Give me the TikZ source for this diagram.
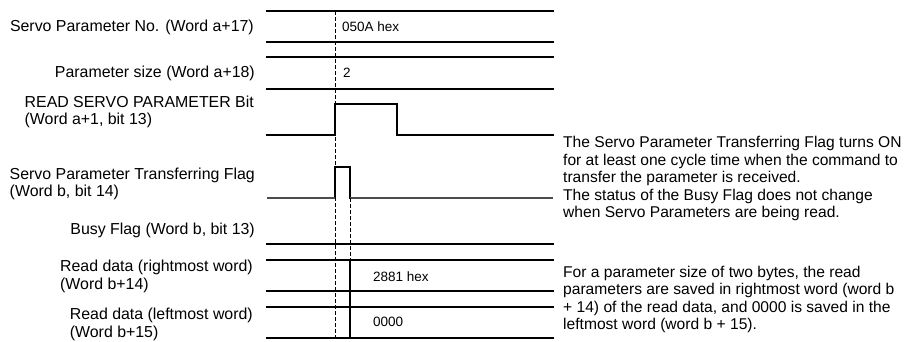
\documentclass[tikz,border=0pt]{standalone}
\usepackage{fontspec}
\setmainfont{Liberation Sans}
\begin{document}
\begin{tikzpicture}[x=1pt,y=-1pt,
  sig/.style={line width=1.1pt, line cap=rect},
  sigg/.style={line width=1.4pt, draw=black!70},
  guide/.style={line width=1pt, dash pattern=on 4pt off 2pt},
  lbl/.style={anchor=east, align=left, inner sep=0pt, font=\fontsize{15.9}{17.6}\selectfont},
  val/.style={anchor=west, inner sep=0pt, font=\fontsize{13.5}{15}\selectfont},
  note/.style={anchor=west, align=left, inner sep=0pt, font=\fontsize{15.6}{17.5}\selectfont}]
\useasboundingbox (0,0) rectangle (911,341);

% labels
\node[lbl] (l1) at (254,27) {Servo Parameter No. (Word a+17)};
\node[lbl] (l2) at (255,73) {Parameter size (Word a+18)};
\node[lbl] (l3) at (254,112) {READ SERVO PARAMETER Bit\\(Word a+1, bit 13)};
\node[lbl] (l4) at (255,184) {Servo Parameter Transferring Flag\\(Word b, bit 14)};
\node[lbl] (l5) at (255,230) {Busy Flag (Word b, bit 13)};
\node[lbl] (l6) at (253,276.5) {Read data (rightmost word)\\(Word b+14)};
\node[lbl] (l7) at (253,324.5) {Read data (leftmost word)\\(Word b+15)};

% word rows
\draw[sig] (267,11) -- (553,11);
\draw[sig] (267,42) -- (553,42);
\draw[sig] (267,57) -- (553,57);
\draw[sig] (267,89) -- (553,89);
% READ bit
\draw[sig] (267,135) -- (335,135) -- (335,104) -- (397,104) -- (397,135) -- (553,135);
% Transferring flag
\draw[sig] (335,198) -- (335,167) -- (350,167) -- (350,198);
\draw[sigg] (267,198) -- (335,198);
\draw[sigg] (350,198) -- (553,198);
% Busy flag
\draw[sig] (267,244) -- (553,244);
% read data rows
\draw[sig] (267,260) -- (553,260);
\draw[sig] (267,291) -- (553,291);
\draw[sig] (267,307) -- (553,307);
\draw[sig] (267,338) -- (553,338);
\draw[sig] (350,260) -- (350,338);

% guides
\draw[guide] (335,11) -- (335,338);
\draw[guide] (350,198) -- (350,260);

% values
\node[val] (v1) at (342,27) {050A hex};
\node[val] (v2) at (343,73) {2};
\node[val] (v3) at (373,277) {2881 hex};
\node[val] (v4) at (373,322) {0000};

% notes
\node[note] (n1) at (563,178.5) {The Servo Parameter Transferring Flag turns ON\\for at least one cycle time when the command to\\transfer the parameter is received.\\The status of the Busy Flag does not change\\when Servo Parameters are being read.};
\node[note] (n2) at (563,299.5) {For a parameter size of two bytes, the read\\parameters are saved in rightmost word (word b\\+ 14) of the read data, and 0000 is saved in the\\leftmost word (word b + 15).};
\end{tikzpicture}
\end{document}
